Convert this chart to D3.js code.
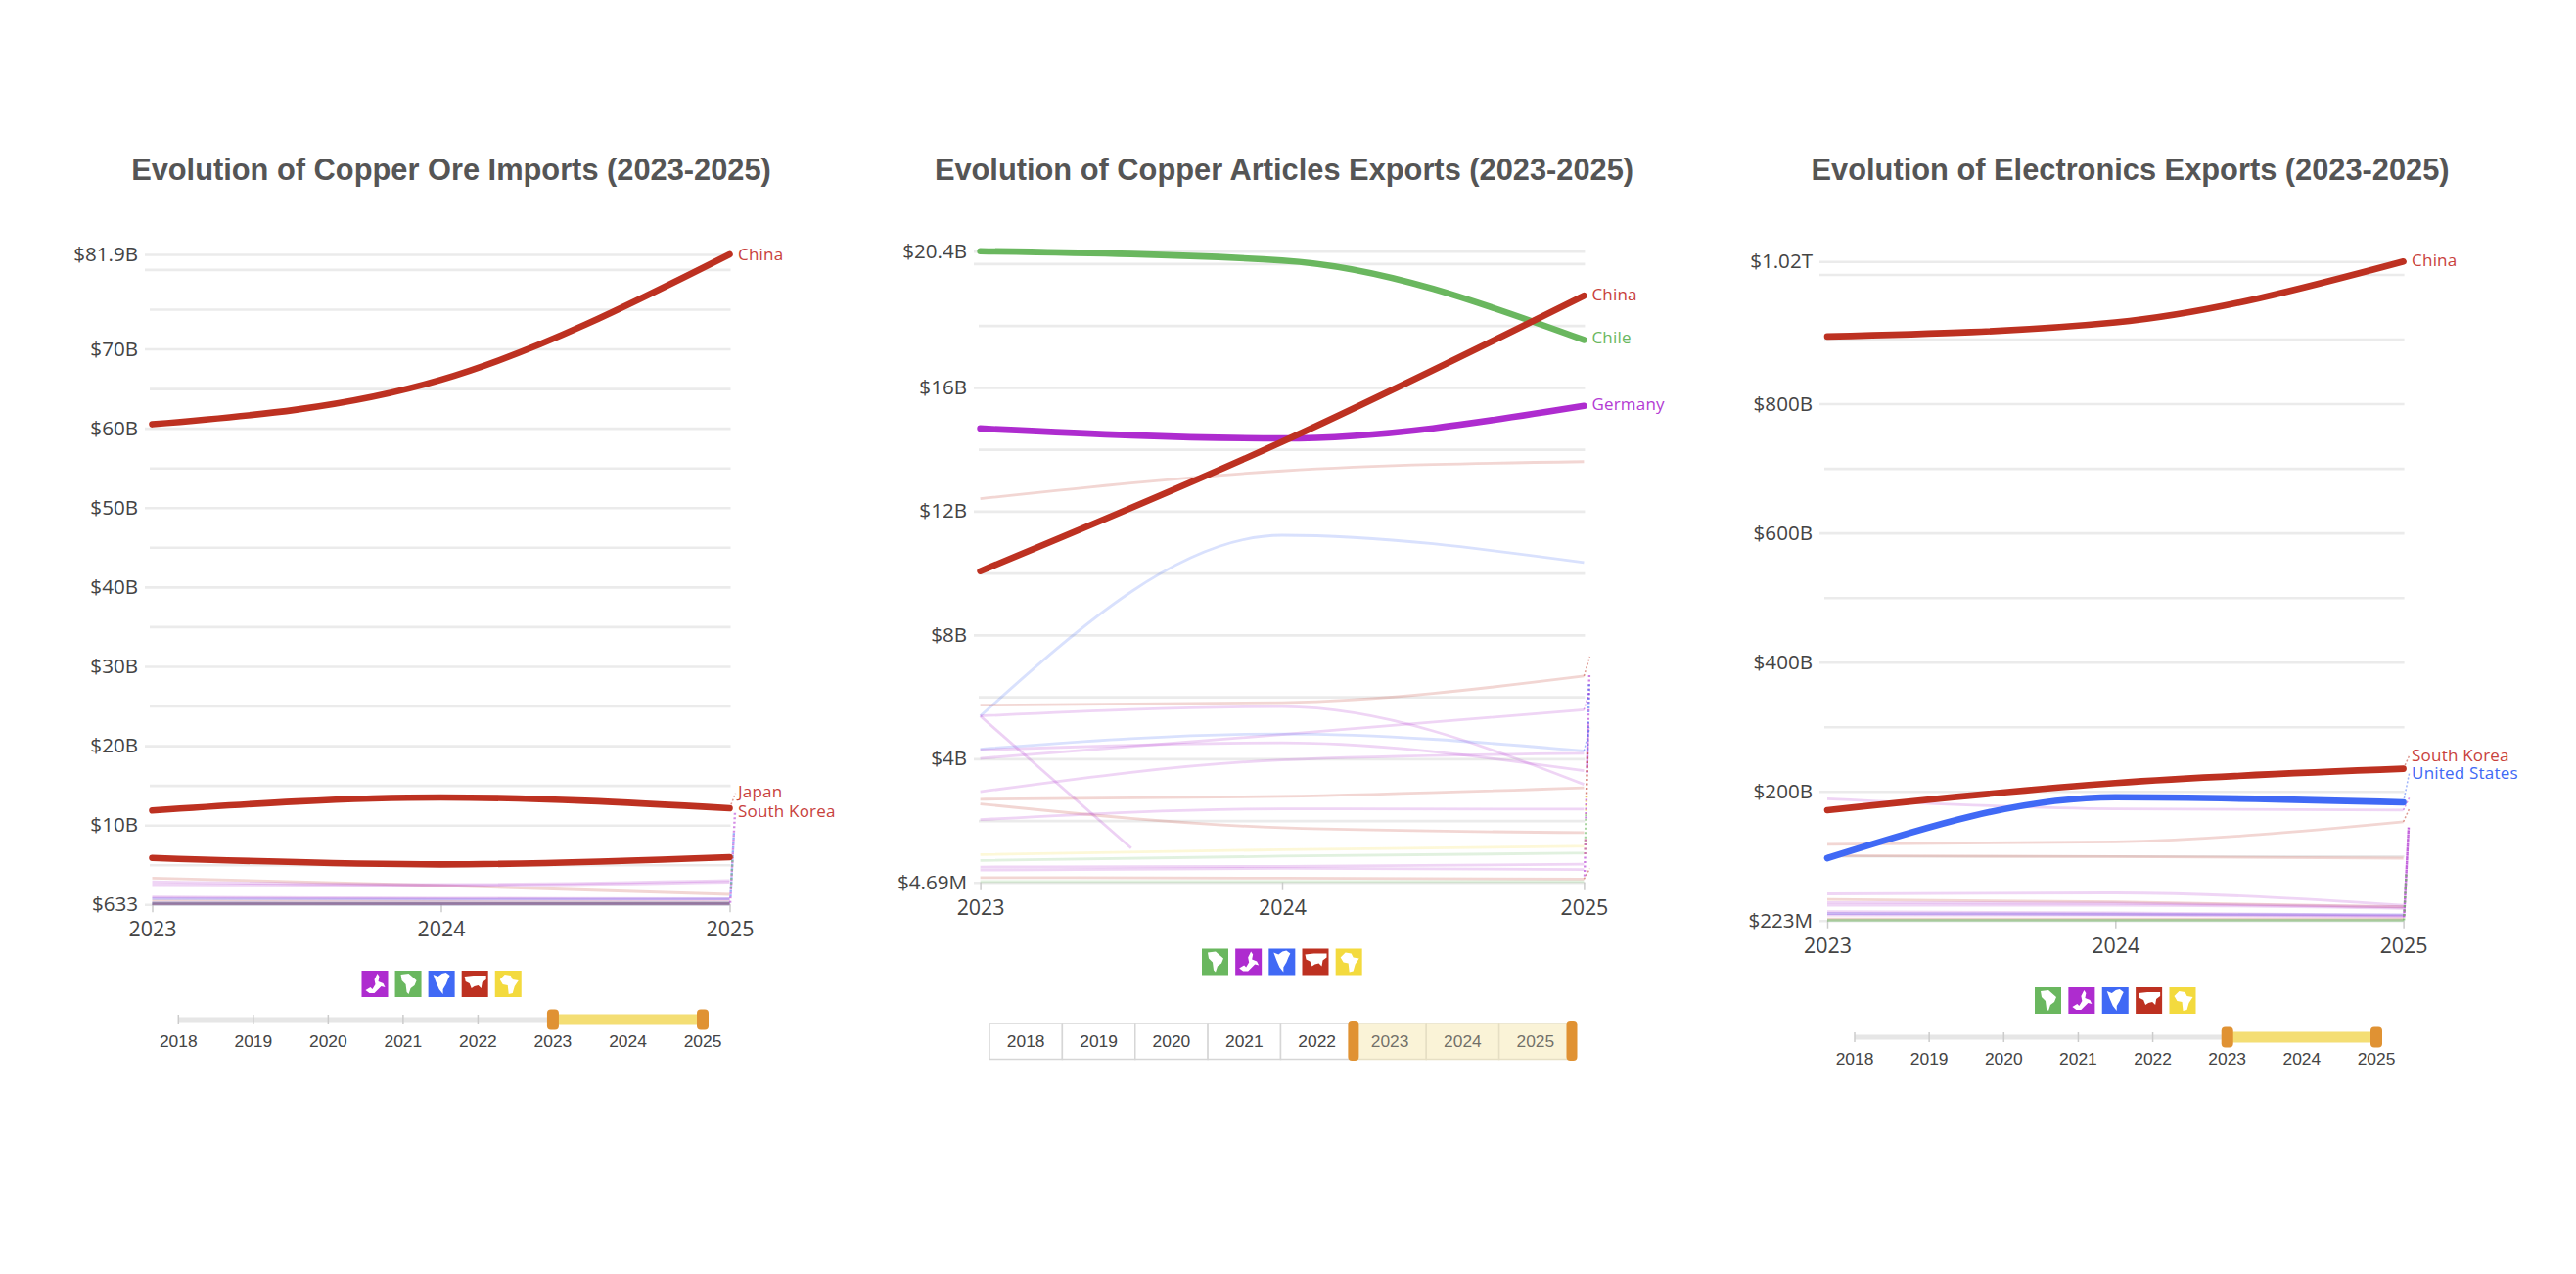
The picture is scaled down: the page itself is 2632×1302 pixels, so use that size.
<!DOCTYPE html>
<html>
<head>
<meta charset="utf-8">
<script src="https://cdn.jsdelivr.net/npm/d3@7"></script>
<style>
  body { margin: 0; background: #fff; }
  svg { display: block; }
  .title { font-family: "Liberation Sans", Arial, sans-serif; font-weight: bold; font-size: 30.8px; fill: #555; text-anchor: middle; }
  .tick text { font-family: "Open Sans", sans-serif; fill: #444; }
  .end-label { font-family: "Open Sans", sans-serif; font-size: 17px; letter-spacing: 0.2px; }
  .slider-text { font-family: "Liberation Sans", Arial, sans-serif; font-size: 17.4px; fill: #444; text-anchor: middle; }
</style>
</head>
<body>
<div id="chart"></div>
<script>
const years = [2023, 2024, 2025];
const sliderYears = [2018, 2019, 2020, 2021, 2022, 2023, 2024, 2025];

const purple = "#ae2ccf", green = "#6ab75f", blue = "#4069f5", red = "#bd3121", yellow = "#f3da3e";

// copper ore imports, $B
const oreTicks = [0.000000633, 5, 10, 15, 20, 25, 30, 35, 40, 45, 50, 55, 60, 65, 70, 75, 80, 81.9];
const oreTickLabels = ["$633", "", "$10B", "", "$20B", "", "$30B", "", "$40B", "", "$50B", "", "$60B", "", "$70B", "", "", "$81.9B"];
const oreChina = [60.5, 66.1, 81.9];
const oreJapan = [11.84, 13.48, 12.12];
const oreKorea = [5.87, 5.05, 5.96];
const oreFaint = [
  [red, [3.33, 2.38, 1.27]],
  [purple, [2.5, 2.38, 2.8]],
  [purple, [2.85, 2.5, 3.0]],
  [purple, [0.94, 0.8, 0.72]],
  [purple, [0.78, 0.7, 0.6]],
  [blue, [0.7, 0.62, 0.7]],
  [red, [0.42, 0.35, 0.3]],
  [blue, [0.2, 0.18, 0.2]],
  [green, [0.12, 0.12, 0.14]],
  [blue, [0.08, 0.07, 0.08]],
  [blue, [0.14, 0.14, 0.14]],
  [red, [0.05, 0.05, 0.05]],
  [blue, [0.03, 0.03, 0.03]],
  [red, [0.1, 0.1, 0.1]]
];
const oreColumns = [[purple, [0.2, 3, 7, 11.6]], [blue, [1, 5, 9]], [green, [2, 6]]];

// copper articles exports, $B
const articleTicks = [0.00469, 2, 4, 6, 8, 10, 12, 14, 16, 18, 20, 20.4];
const articleTickLabels = ["$4.69M", "", "$4B", "", "$8B", "", "$12B", "", "$16B", "", "", "$20.4B"];
const articleChile = [20.4, 20.1, 17.53];
const articleChina = [10.06, 14.24, 18.96];
const articleGermany = [14.67, 14.35, 15.4];
const articleFaint = [
  [red, [12.4, 13.3, 13.6]],
  [blue, [5.38, 11.22, 10.34]],
  [red, [5.73, 5.81, 6.67]],
  [purple, [5.38, 5.68, 3.17]],
  [purple, [4.01, 4.78, 5.58]],
  [blue, [4.31, 4.8, 4.25]],
  [purple, [4.28, 4.51, 3.61]],
  [purple, [2.93, 3.96, 4.17]],
  [red, [2.69, 2.78, 3.06]],
  [red, [2.54, 1.77, 1.61]],
  [purple, [2.03, 2.38, 2.37]],
  [yellow, [0.9, 1.06, 1.17]],
  [green, [0.71, 0.85, 0.95]],
  [purple, [0.5, 0.52, 0.59]],
  [purple, [0.4, 0.46, 0.42]],
  [red, [0.16, 0.14, 0.11]],
  [green, [0.03, 0.03, 0.03]]
];
const articlePartialYears = [2023, 2023.5];
const articlePartial = [5.38, 1.11];
const articleColumns = [
  [purple, [6.7, 5.8]], [blue, [6.4, 5.5]], [purple, [5.6, 3.5]], [blue, [5.2, 4.2]], [purple, [5.1, 3.7]],
  [red, [4.2, 2.75]], [yellow, [2.8, 2.2]], [purple, [2.7, 2.0]], [green, [2.2, 1.3]], [yellow, [1.4, 0.9]], [purple, [1.4, 0.2]]
];

// electronics exports, $B
const elecTicks = [0.223, 100, 200, 300, 400, 500, 600, 700, 800, 900, 1000, 1020];
const elecTickLabels = ["$223M", "", "$200B", "", "$400B", "", "$600B", "", "$800B", "", "", "$1.02T"];
const elecChina = [904, 925.7, 1020];
const elecKorea = [171, 213, 235];
const elecUS = [96.7, 191, 183];
const elecFaint = [
  [purple, [188.6, 173, 171]],
  [red, [118, 122, 153]],
  [red, [100.7, 99, 96.7]],
  [purple, [41.4, 42.9, 23.8]],
  [red, [33, 29, 21.3]],
  [purple, [28, 27, 21]],
  [purple, [24, 24, 19]],
  [purple, [14, 12, 8.7]],
  [purple, [11, 10, 7.5]],
  [purple, [8.7, 8.7, 6.2]],
  [blue, [11, 10, 9]],
  [red, [2.5, 2.5, 2.5]],
  [green, [1.2, 1.2, 1.2]],
  [green, [0.6, 0.6, 0.6]],
  [green, [0.3, 0.3, 0.3]]
];
const elecColumns = [[purple, [5, 60, 147]], [purple, [8, 70, 140]], [green, [0.5, 30, 75]]];

const continentShapes = {
  europe: [[[4,20],[9,17],[11,19],[14,14],[13,9],[16,3],[18,6],[17,11],[22,13],[24,17],[20,16],[17,19],[13,23],[8,23]]],
  southAmerica: [[[6,4],[14,3],[22,10],[20,15],[16,18],[14,24],[12,22],[11,14],[7,10]]],
  northAmerica: [[[5,4],[10,6],[14,3],[18,2],[22,5],[20,9],[18,14],[15,19],[15,24],[11,19],[8,12]]],
  asia: [[[3,6],[12,5],[25,5],[25,9],[21,12],[20,18],[17,15],[13,16],[10,18],[8,13],[4,11]]],
  africa: [[[5,9],[10,4],[16,5],[18,9],[24,10],[20,16],[18,23],[14,24],[13,15],[8,14]]]
};
const legendOreOrder = [[purple, "europe"], [green, "southAmerica"], [blue, "northAmerica"], [red, "asia"], [yellow, "africa"]];
const legendOtherOrder = [[green, "southAmerica"], [purple, "europe"], [blue, "northAmerica"], [red, "asia"], [yellow, "africa"]];

const svg = d3.select("#chart").append("svg").attr("width", 2632).attr("height", 1302);

function drawPanel(p) {
  const g = svg.append("g");

  g.append("text").attr("class", "title").attr("x", p.titleX).attr("y", 184).text(p.title);

  const x = d3.scaleLinear().domain([2023, 2025]).range(p.xRange);
  const y = d3.scaleLinear().domain(p.domain).range(p.yRange);

  const yAxis = g.append("g")
    .attr("transform", `translate(${p.gridLeft}, 0)`)
    .call(d3.axisLeft(y).tickValues(p.ticks).tickFormat((d, i) => p.tickLabels[i]));
  yAxis.select(".domain").remove();
  yAxis.selectAll(".tick line")
    .attr("x1", (d, i) => p.tickLabels[i] || d === 80 || d === 20 || d === 1000 ? -5 : 0)
    .attr("x2", p.xRange[1] - p.gridLeft + 1)
    .attr("stroke", "#ebebeb").attr("stroke-width", 2.6);
  yAxis.selectAll(".tick text").attr("x", -12).attr("font-size", 20.6);

  const xAxis = g.append("g")
    .attr("transform", `translate(0, ${p.yRange[0]})`)
    .call(d3.axisBottom(x).tickValues(years).tickFormat(d3.format("d")).tickSize(8));
  xAxis.select(".domain").remove();
  xAxis.selectAll(".tick line").attr("stroke", "#ccc").attr("stroke-width", 1.5);
  xAxis.selectAll(".tick text").attr("font-size", 21.4).attr("y", 18);

  const line = d3.line().x(d => x(d[0])).y(d => y(d[1])).curve(d3.curveMonotoneX);
  const yearPairs = (ys, vs) => vs.map((v, i) => [ys[i], v]);

  p.faint.forEach(([color, values]) => {
    g.append("path").attr("d", line(yearPairs(years, values)))
      .attr("fill", "none").attr("stroke", color).attr("stroke-opacity", 0.2).attr("stroke-width", 2.8);
  });
  if (p.partial) {
    g.append("path").attr("d", line(yearPairs(p.partial.years, p.partial.values)))
      .attr("fill", "none").attr("stroke", purple).attr("stroke-opacity", 0.22).attr("stroke-width", 2.8);
  }

  // dotted fan of collapsed label leaders right of the last year
  const stubX = d3.scaleLinear().domain(p.stubDomain).range([p.xRange[1] + 0.5, p.xRange[1] + 5.5]);
  const stubLine = d3.line().x(v => stubX(v)).y(v => y(v));
  p.columns.forEach(([color, values]) => {
    g.append("path").attr("d", stubLine(values))
      .attr("fill", "none").attr("stroke", color).attr("stroke-opacity", p.columnOpacity)
      .attr("stroke-width", 2.4).attr("stroke-dasharray", "2 2.5");
  });
  p.leaders.forEach(([color, from, to]) => {
    g.append("line")
      .attr("x1", x(2025)).attr("y1", y(from)).attr("x2", x(2025) + 6).attr("y2", y(to))
      .attr("stroke", color).attr("stroke-opacity", 0.5).attr("stroke-width", 1.5).attr("stroke-dasharray", "2 2");
  });

  p.main.forEach(([color, values]) => {
    g.append("path").attr("d", line(yearPairs(years, values)))
      .attr("fill", "none").attr("stroke", color).attr("stroke-width", 6.6).attr("stroke-linecap", "round");
  });

  p.endLabels.forEach(([name, color, labelValue]) => {
    g.append("text").attr("class", "end-label")
      .attr("x", p.xRange[1] + p.labelGap).attr("y", y(labelValue)).attr("dy", "0.35em")
      .attr("fill", color).text(name);
  });

  // continent legend
  const legend = d3.scaleBand().domain(d3.range(5)).range(p.legendRange).paddingInner(0.2);
  const shapeLine = d3.line().curve(d3.curveLinearClosed);
  p.legend.forEach(([color, shape], i) => {
    const item = g.append("g").attr("transform", `translate(${legend(i)}, ${p.legendY})`);
    item.append("rect").attr("width", 27).attr("height", 27).attr("fill", color);
    continentShapes[shape].forEach(s => item.append("path").attr("d", shapeLine(s)).attr("fill", "#fff"));
  });

  if (p.sliderButtons) drawButtonSlider(g, p); else drawTrackSlider(g, p);
}

function drawTrackSlider(g, p) {
  const s = d3.scalePoint().domain(sliderYears).range(p.sliderRange);
  const axis = g.append("g").attr("transform", `translate(0, ${p.sliderY})`);
  axis.append("line").attr("x1", s(2018)).attr("x2", s(2025)).attr("stroke", "#e6e6e6").attr("stroke-width", 5);
  axis.selectAll(".mark").data(sliderYears).enter().append("line")
    .attr("x1", d => s(d)).attr("x2", d => s(d)).attr("y1", -5).attr("y2", 5)
    .attr("stroke", "#ccc").attr("stroke-width", 1.5);
  axis.selectAll(".slider-text").data(sliderYears).enter().append("text")
    .attr("class", "slider-text").attr("x", d => s(d)).attr("y", 28).text(d => d);
  axis.append("rect").attr("x", s(2023)).attr("width", s(2025) - s(2023)).attr("y", -5.5).attr("height", 11).attr("fill", "#f4de74");
  [2023, 2025].forEach(d => {
    axis.append("rect").attr("x", s(d) - 6).attr("y", -10.5).attr("width", 12).attr("height", 21).attr("rx", 4).attr("fill", "#e09233");
  });
}

function drawButtonSlider(g, p) {
  const s = d3.scaleBand().domain(sliderYears).range(p.sliderRange);
  const top = p.sliderY, h = 36.5;
  sliderYears.forEach(d => {
    const on = d >= 2023;
    g.append("rect").attr("x", s(d)).attr("y", top).attr("width", s.bandwidth()).attr("height", h)
      .attr("fill", on ? "#faf3d7" : "#fff").attr("stroke", on ? "#e6dfc4" : "#d6d6d6").attr("stroke-width", 1.5);
    g.append("text").attr("class", "slider-text").attr("x", s(d) + s.bandwidth() / 2).attr("y", top + 24)
      .attr("fill-opacity", on ? 0.75 : 1).text(d);
  });
  [s(2023), s(2025) + s.bandwidth()].forEach(px => {
    g.append("rect").attr("x", px - 5.5).attr("y", top - 3).attr("width", 11).attr("height", 41).attr("rx", 4).attr("fill", "#e09233");
  });
}

drawPanel({
  title: "Evolution of Copper Ore Imports (2023-2025)", titleX: 461,
  domain: [0.000000633, 81.9], xRange: [155.5, 745.5], yRange: [924.3, 260], gridLeft: 153,
  ticks: oreTicks, tickLabels: oreTickLabels, labelGap: 8.5,
  faint: oreFaint, columns: oreColumns, columnOpacity: 0.55, stubDomain: [0, 11.6],
  leaders: [[red, 12.12, 14]],
  main: [[red, oreKorea], [red, oreJapan], [red, oreChina]],
  endLabels: [["China", "#c8413c", 81.95], ["Japan", "#c8413c", 14.2], ["South Korea", "#c8413c", 11.8]],
  legend: legendOreOrder, legendRange: [369.5, 533], legendY: 992,
  sliderRange: [182.3, 718], sliderY: 1042
});

drawPanel({
  title: "Evolution of Copper Articles Exports (2023-2025)", titleX: 1312,
  domain: [0.00469, 20.4], xRange: [1001.6, 1618.4], yRange: [901.7, 256.7], gridLeft: 1000,
  ticks: articleTicks, tickLabels: articleTickLabels, labelGap: 8,
  faint: articleFaint, partial: { years: articlePartialYears, values: articlePartial },
  columns: articleColumns, columnOpacity: 0.6, stubDomain: [0, 6.7],
  leaders: [[red, 6.67, 7.3], [red, 0.11, 0.45], [purple, 5.58, 6.2], [blue, 4.25, 5.0]],
  main: [[green, articleChile], [purple, articleGermany], [red, articleChina]],
  endLabels: [["China", "#c8413c", 19], ["Chile", green, 17.6], ["Germany", "#b33bd3", 15.45]],
  legend: legendOtherOrder, legendRange: [1228, 1392], legendY: 969.5,
  sliderButtons: true, sliderRange: [1011, 1606], sliderY: 1046
});

drawPanel({
  title: "Evolution of Electronics Exports (2023-2025)", titleX: 2176.6,
  domain: [0.223, 1020], xRange: [1867, 2455.6], yRange: [940.7, 267.3], gridLeft: 1864,
  ticks: elecTicks, tickLabels: elecTickLabels, labelGap: 8.5,
  faint: elecFaint, columns: elecColumns, columnOpacity: 0.75, stubDomain: [0, 147],
  leaders: [[red, 235, 255], [blue, 183, 228], [purple, 171, 190], [red, 153, 173]],
  main: [[red, elecKorea], [blue, elecUS], [red, elecChina]],
  endLabels: [["China", "#c8413c", 1022], ["South Korea", "#c8413c", 256], ["United States", blue, 228]],
  legend: legendOtherOrder, legendRange: [2079, 2244], legendY: 1009,
  sliderRange: [1895, 2428], sliderY: 1060
});
</script>
</body>
</html>
